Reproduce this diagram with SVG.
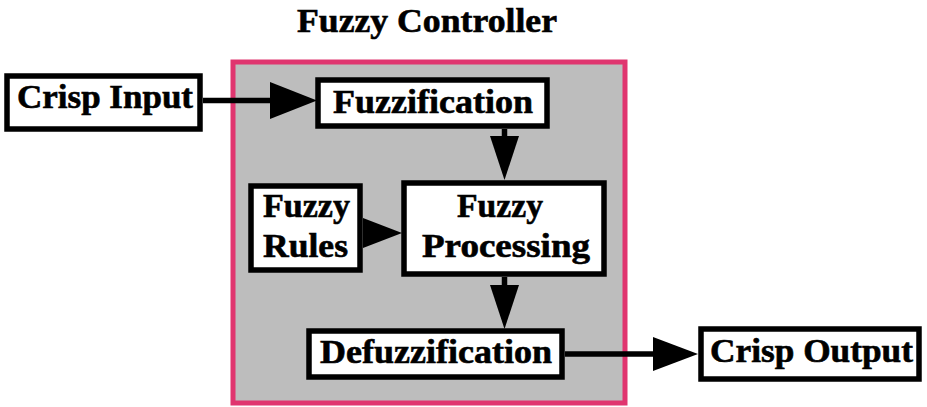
<svg xmlns="http://www.w3.org/2000/svg" width="927" height="407" viewBox="0 0 927 407">
  <style>
    .box { fill: #ffffff; stroke: #000000; stroke-width: 5.5; }
    .lbl { font-family: "Liberation Serif", "Times New Roman", serif; font-weight: bold; font-size: 33px; fill: #000000; stroke: #000000; stroke-width: 0.6; }
    .title { font-size: 34px; }
    .wire { stroke: #000000; stroke-width: 5.5; fill: none; }
    .head { fill: #000000; stroke: none; }
  </style>
  <rect width="927" height="407" fill="#ffffff"/>

  <!-- controller boundary -->
  <g id="controller">
    <rect x="233" y="62" width="392" height="341" fill="#bdbdbd" stroke="#e0356f" stroke-width="5"/>
    <text class="lbl title" x="297" y="32" textLength="260" lengthAdjust="spacingAndGlyphs">Fuzzy Controller</text>
  </g>

  <!-- connectors -->
  <g id="connectors">
    <line class="wire" x1="203" y1="100.5" x2="272" y2="100.5"/>
    <polygon class="head" points="270,82 270,119 317,100.5"/>

    <line class="wire" x1="504.5" y1="129" x2="504.5" y2="139"/>
    <polygon class="head" points="490,136 519,136 504.5,180"/>

    <polygon class="head" points="363,218 363,248 402,233"/>

    <line class="wire" x1="504.5" y1="277" x2="504.5" y2="287"/>
    <polygon class="head" points="490,285 519,285 504.5,329"/>

    <line class="wire" x1="565" y1="354" x2="655" y2="354"/>
    <polygon class="head" points="653,337 653,371 698,354"/>
  </g>

  <g id="crisp-input">
    <rect class="box" x="7" y="76" width="193" height="53"/>
    <text class="lbl" x="17" y="108" textLength="176" lengthAdjust="spacingAndGlyphs">Crisp Input</text>
  </g>

  <g id="fuzzification">
    <rect class="box" x="318" y="80" width="229" height="46"/>
    <text class="lbl" x="333" y="113" textLength="200" lengthAdjust="spacingAndGlyphs">Fuzzification</text>
  </g>

  <g id="fuzzy-rules">
    <rect class="box" x="251" y="186" width="109" height="84"/>
    <text class="lbl" x="263" y="217" textLength="87" lengthAdjust="spacingAndGlyphs">Fuzzy</text>
    <text class="lbl" x="263" y="257" textLength="85" lengthAdjust="spacingAndGlyphs">Rules</text>
  </g>

  <g id="fuzzy-processing">
    <rect class="box" x="404" y="183" width="200" height="91"/>
    <text class="lbl" x="457" y="217" textLength="86" lengthAdjust="spacingAndGlyphs">Fuzzy</text>
    <text class="lbl" x="422" y="257" textLength="168" lengthAdjust="spacingAndGlyphs">Processing</text>
  </g>

  <g id="defuzzification">
    <rect class="box" x="309" y="331" width="253" height="46"/>
    <text class="lbl" x="320" y="363" textLength="232" lengthAdjust="spacingAndGlyphs">Defuzzification</text>
  </g>

  <g id="crisp-output">
    <rect class="box" x="701" y="329" width="218" height="50"/>
    <text class="lbl" x="710" y="362" textLength="203" lengthAdjust="spacingAndGlyphs">Crisp Output</text>
  </g>
</svg>
